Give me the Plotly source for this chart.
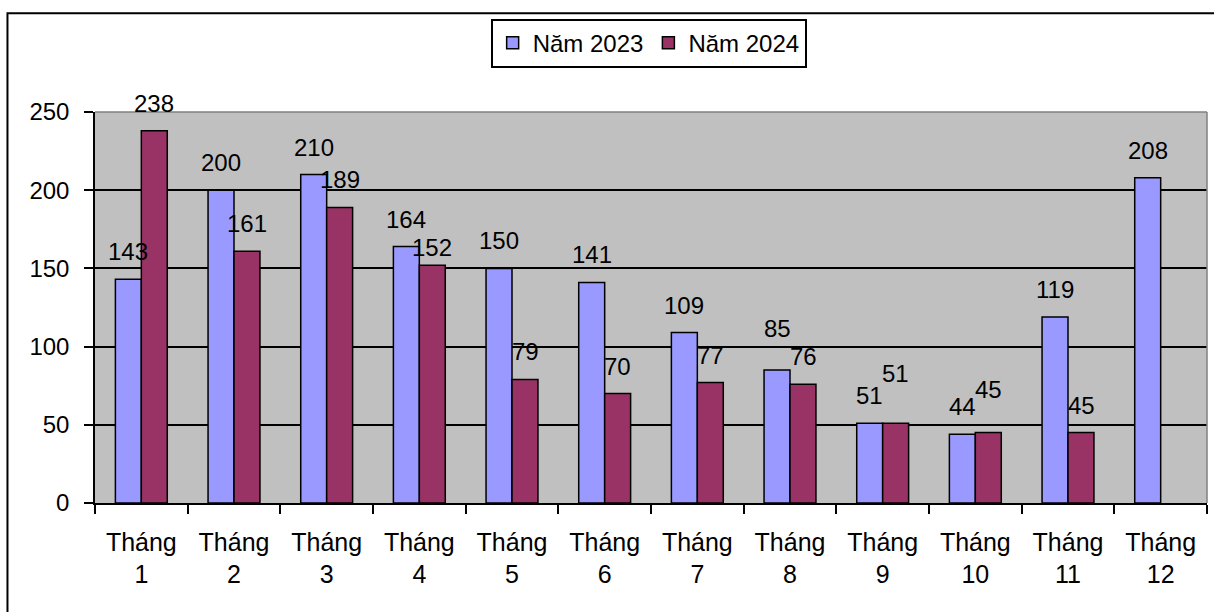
import plotly.graph_objects as go

months = ["Tháng<br>1", "Tháng<br>2", "Tháng<br>3", "Tháng<br>4", "Tháng<br>5", "Tháng<br>6",
          "Tháng<br>7", "Tháng<br>8", "Tháng<br>9", "Tháng<br>10", "Tháng<br>11", "Tháng<br>12"]
values_2023 = [143, 200, 210, 164, 150, 141, 109, 85, 51, 44, 119, 208]
values_2024 = [238, 161, 189, 152, 79, 70, 77, 76, 51, 45, 45, None]
series_names = ["Năm 2023", "Năm 2024"]
y_ticks = [0, 50, 100, 150, 200, 250]

# label vertical nudges (px) for labels that were moved in the original
label_nudge_2023 = {7: 14}
label_nudge_2024 = {3: -10, 8: 22, 9: 16}

W, H = 1214, 612
L, R, T, B = 95, 7.3, 111.5, 108.5
pw, ph = W - L - R, H - T - B

def px_x(x):
    return (x - L) / pw

def px_y(y):
    return (H - B - y) / ph

FONT = "Liberation Sans, Arial, sans-serif"
BLUE = "#9999FF"
RED = "#993366"

fig = go.Figure()
fig.add_trace(go.Bar(x=months, y=values_2023, name=series_names[0],
                     marker=dict(color=BLUE, line=dict(color="black", width=1.5))))
fig.add_trace(go.Bar(x=months, y=values_2024, name=series_names[1],
                     marker=dict(color=RED, line=dict(color="black", width=1.5))))

base_shift = 12
half = 13
annotations = []
for i, (m, v) in enumerate(zip(months, values_2023)):
    if v is not None:
        annotations.append(dict(x=m, y=v, text=str(v), showarrow=False, xref="x", yref="y",
                                xshift=-half, yshift=base_shift + label_nudge_2023.get(i, 0),
                                yanchor="bottom", font=dict(family=FONT, size=24, color="black")))
for i, (m, v) in enumerate(zip(months, values_2024)):
    if v is not None:
        annotations.append(dict(x=m, y=v, text=str(v), showarrow=False, xref="x", yref="y",
                                xshift=half, yshift=base_shift + label_nudge_2024.get(i, 0),
                                yanchor="bottom", font=dict(family=FONT, size=24, color="black")))

shapes = [
    # outer chart border (left & top visible)
    dict(type="rect", xref="paper", yref="paper", x0=px_x(7.5), x1=px_x(1230),
         y0=px_y(640), y1=px_y(12.5), line=dict(color="black", width=2), layer="above"),
    # plot area border top/right (gray)
    dict(type="line", xref="paper", yref="paper", x0=0, x1=1, y0=1, y1=1,
         line=dict(color="#808080", width=1.5), layer="above"),
    dict(type="line", xref="paper", yref="paper", x0=1, x1=1, y0=0, y1=1,
         line=dict(color="#808080", width=1.5), layer="above"),
]

fig.update_layout(
    width=W, height=H,
    margin=dict(l=L, r=R, t=T, b=B, pad=0),
    paper_bgcolor="white", plot_bgcolor="#C0C0C0",
    font=dict(family=FONT, size=24, color="black"),
    barmode="group", bargap=0.44, bargroupgap=0,
    showlegend=True,
    legend=dict(orientation="h", x=px_x(648.5), xanchor="center", y=px_y(18), yanchor="top",
                bordercolor="black", borderwidth=2, bgcolor="white",
                font=dict(family=FONT, size=24, color="black"), traceorder="normal"),
    annotations=annotations,
    shapes=shapes,
)
fig.update_xaxes(categoryorder="array", categoryarray=months, tickson="boundaries",
                 ticks="outside", ticklen=9, tickwidth=1.5, tickcolor="black",
                 showline=True, linecolor="black", linewidth=1.5, showgrid=False,
                 ticklabelstandoff=16,
                 tickfont=dict(family=FONT, size=25, color="black"), tickangle=0)
fig.update_yaxes(range=[0, 250], tickvals=y_ticks, ticks="outside", ticklen=9, tickwidth=1.5,
                 tickcolor="black", showline=True, linecolor="black", linewidth=1.5,
                 showgrid=True, gridcolor="black", gridwidth=1.5, zeroline=False,
                 ticklabelstandoff=10,
                 tickfont=dict(family=FONT, size=24, color="black"))

fig.write_html("out.html")
